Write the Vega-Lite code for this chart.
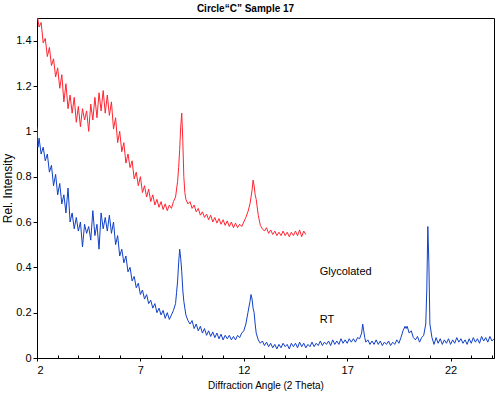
{
"$schema": "https://vega.github.io/schema/vega-lite/v6.json",
"width": 457, "height": 340,
"autosize": {"type": "none"},
"padding": {"left": 37, "top": 18, "right": 6, "bottom": 38},
"background": "white",
"title": {"text": "Circle“C” Sample 17", "font": "Liberation Sans", "fontSize": 10, "fontWeight": "bold", "color": "black", "anchor": "middle", "dx": -20, "offset": 4},
"config": {
  "view": {"stroke": "black", "strokeWidth": 1},
  "axis": {"grid": false, "domainColor": "black", "tickColor": "black", "labelColor": "black", "titleColor": "black", "labelFont": "Liberation Sans", "titleFont": "Liberation Sans", "labelFontSize": 11, "titleFontSize": 10, "titleFontWeight": "normal", "tickSize": 4}
},
"resolve": {"axis": {"x": "independent"}},
"datasets": {
"lines": [
{"s":"G","x":2.0,"y":1.52},{"s":"G","x":2.1,"y":1.46},{"s":"G","x":2.2,"y":1.48},{"s":"G","x":2.3,"y":1.39},{"s":"G","x":2.4,"y":1.41},{"s":"G","x":2.5,"y":1.33},{"s":"G","x":2.6,"y":1.37},{"s":"G","x":2.7,"y":1.29},{"s":"G","x":2.8,"y":1.32},{"s":"G","x":2.9,"y":1.24},
{"s":"G","x":3.0,"y":1.28},{"s":"G","x":3.1,"y":1.19},{"s":"G","x":3.2,"y":1.25},{"s":"G","x":3.3,"y":1.13},{"s":"G","x":3.4,"y":1.21},{"s":"G","x":3.5,"y":1.10},{"s":"G","x":3.6,"y":1.16},{"s":"G","x":3.7,"y":1.08},{"s":"G","x":3.8,"y":1.15},{"s":"G","x":3.9,"y":1.04},
{"s":"G","x":4.0,"y":1.11},{"s":"G","x":4.1,"y":1.02},{"s":"G","x":4.2,"y":1.10},{"s":"G","x":4.3,"y":1.05},{"s":"G","x":4.4,"y":1.09},{"s":"G","x":4.5,"y":1.00},{"s":"G","x":4.6,"y":1.12},{"s":"G","x":4.7,"y":1.05},{"s":"G","x":4.8,"y":1.15},{"s":"G","x":4.9,"y":1.06},
{"s":"G","x":5.0,"y":1.17},{"s":"G","x":5.1,"y":1.09},{"s":"G","x":5.2,"y":1.18},{"s":"G","x":5.3,"y":1.08},{"s":"G","x":5.4,"y":1.16},{"s":"G","x":5.5,"y":1.07},{"s":"G","x":5.6,"y":1.13},{"s":"G","x":5.7,"y":1.01},{"s":"G","x":5.8,"y":1.06},{"s":"G","x":5.9,"y":0.95},
{"s":"G","x":6.0,"y":1.00},{"s":"G","x":6.1,"y":0.91},{"s":"G","x":6.2,"y":0.95},{"s":"G","x":6.3,"y":0.86},{"s":"G","x":6.4,"y":0.90},{"s":"G","x":6.5,"y":0.84},{"s":"G","x":6.6,"y":0.87},{"s":"G","x":6.7,"y":0.79},{"s":"G","x":6.8,"y":0.82},{"s":"G","x":6.9,"y":0.76},
{"s":"G","x":7.0,"y":0.80},{"s":"G","x":7.1,"y":0.73},{"s":"G","x":7.2,"y":0.76},{"s":"G","x":7.3,"y":0.71},{"s":"G","x":7.4,"y":0.745},{"s":"G","x":7.5,"y":0.69},{"s":"G","x":7.6,"y":0.72},{"s":"G","x":7.7,"y":0.675},{"s":"G","x":7.8,"y":0.70},{"s":"G","x":7.9,"y":0.665},
{"s":"G","x":8.0,"y":0.69},{"s":"G","x":8.1,"y":0.655},{"s":"G","x":8.2,"y":0.68},{"s":"G","x":8.3,"y":0.65},{"s":"G","x":8.4,"y":0.675},{"s":"G","x":8.5,"y":0.66},{"s":"G","x":8.6,"y":0.69},{"s":"G","x":8.7,"y":0.71},{"s":"G","x":8.8,"y":0.78},{"s":"G","x":8.85,"y":0.84},
{"s":"G","x":8.9,"y":0.92},{"s":"G","x":8.95,"y":1.02},{"s":"G","x":9.0,"y":1.08},{"s":"G","x":9.05,"y":0.96},{"s":"G","x":9.1,"y":0.80},{"s":"G","x":9.15,"y":0.73},{"s":"G","x":9.2,"y":0.70},{"s":"G","x":9.3,"y":0.68},{"s":"G","x":9.4,"y":0.69},{"s":"G","x":9.5,"y":0.66},
{"s":"G","x":9.6,"y":0.675},{"s":"G","x":9.7,"y":0.645},{"s":"G","x":9.8,"y":0.66},{"s":"G","x":9.9,"y":0.63},{"s":"G","x":10.0,"y":0.645},{"s":"G","x":10.1,"y":0.62},{"s":"G","x":10.2,"y":0.635},{"s":"G","x":10.3,"y":0.61},{"s":"G","x":10.4,"y":0.63},{"s":"G","x":10.5,"y":0.60},
{"s":"G","x":10.6,"y":0.62},{"s":"G","x":10.7,"y":0.595},{"s":"G","x":10.8,"y":0.615},{"s":"G","x":10.9,"y":0.59},{"s":"G","x":11.0,"y":0.61},{"s":"G","x":11.1,"y":0.585},{"s":"G","x":11.2,"y":0.605},{"s":"G","x":11.3,"y":0.58},{"s":"G","x":11.4,"y":0.60},{"s":"G","x":11.5,"y":0.575},
{"s":"G","x":11.6,"y":0.595},{"s":"G","x":11.7,"y":0.575},{"s":"G","x":11.8,"y":0.59},{"s":"G","x":11.9,"y":0.58},{"s":"G","x":12.0,"y":0.60},{"s":"G","x":12.1,"y":0.62},{"s":"G","x":12.2,"y":0.645},{"s":"G","x":12.3,"y":0.68},{"s":"G","x":12.4,"y":0.74},{"s":"G","x":12.45,"y":0.785},
{"s":"G","x":12.5,"y":0.76},{"s":"G","x":12.55,"y":0.72},{"s":"G","x":12.6,"y":0.70},{"s":"G","x":12.7,"y":0.63},{"s":"G","x":12.8,"y":0.585},{"s":"G","x":12.9,"y":0.57},{"s":"G","x":13.0,"y":0.56},{"s":"G","x":13.1,"y":0.575},{"s":"G","x":13.2,"y":0.55},{"s":"G","x":13.3,"y":0.565},
{"s":"G","x":13.4,"y":0.545},{"s":"G","x":13.5,"y":0.56},{"s":"G","x":13.6,"y":0.54},{"s":"G","x":13.7,"y":0.555},{"s":"G","x":13.8,"y":0.54},{"s":"G","x":13.9,"y":0.56},{"s":"G","x":14.0,"y":0.54},{"s":"G","x":14.1,"y":0.555},{"s":"G","x":14.2,"y":0.535},{"s":"G","x":14.3,"y":0.555},
{"s":"G","x":14.4,"y":0.54},{"s":"G","x":14.5,"y":0.56},{"s":"G","x":14.6,"y":0.54},{"s":"G","x":14.7,"y":0.565},{"s":"G","x":14.8,"y":0.535},{"s":"G","x":14.9,"y":0.56},{"s":"G","x":15.0,"y":0.545},
{"s":"R","x":2.0,"y":1.02},{"s":"R","x":2.05,"y":0.93},{"s":"R","x":2.1,"y":0.97},{"s":"R","x":2.2,"y":0.90},{"s":"R","x":2.3,"y":0.93},{"s":"R","x":2.4,"y":0.87},{"s":"R","x":2.5,"y":0.90},{"s":"R","x":2.6,"y":0.82},{"s":"R","x":2.7,"y":0.85},{"s":"R","x":2.8,"y":0.76},
{"s":"R","x":2.9,"y":0.81},{"s":"R","x":3.0,"y":0.72},{"s":"R","x":3.1,"y":0.77},{"s":"R","x":3.2,"y":0.68},{"s":"R","x":3.3,"y":0.72},{"s":"R","x":3.4,"y":0.64},{"s":"R","x":3.5,"y":0.75},{"s":"R","x":3.6,"y":0.60},{"s":"R","x":3.7,"y":0.64},{"s":"R","x":3.8,"y":0.57},
{"s":"R","x":3.9,"y":0.62},{"s":"R","x":4.0,"y":0.56},{"s":"R","x":4.1,"y":0.60},{"s":"R","x":4.2,"y":0.49},{"s":"R","x":4.3,"y":0.59},{"s":"R","x":4.4,"y":0.55},{"s":"R","x":4.5,"y":0.58},{"s":"R","x":4.6,"y":0.52},{"s":"R","x":4.7,"y":0.65},{"s":"R","x":4.8,"y":0.54},
{"s":"R","x":4.9,"y":0.59},{"s":"R","x":5.0,"y":0.48},{"s":"R","x":5.1,"y":0.64},{"s":"R","x":5.2,"y":0.57},{"s":"R","x":5.3,"y":0.62},{"s":"R","x":5.4,"y":0.56},{"s":"R","x":5.5,"y":0.63},{"s":"R","x":5.6,"y":0.55},{"s":"R","x":5.7,"y":0.60},{"s":"R","x":5.8,"y":0.50},
{"s":"R","x":5.9,"y":0.54},{"s":"R","x":6.0,"y":0.45},{"s":"R","x":6.1,"y":0.48},{"s":"R","x":6.2,"y":0.42},{"s":"R","x":6.3,"y":0.45},{"s":"R","x":6.4,"y":0.38},{"s":"R","x":6.5,"y":0.40},{"s":"R","x":6.6,"y":0.34},{"s":"R","x":6.7,"y":0.36},{"s":"R","x":6.8,"y":0.31},
{"s":"R","x":6.9,"y":0.33},{"s":"R","x":7.0,"y":0.28},{"s":"R","x":7.1,"y":0.30},{"s":"R","x":7.2,"y":0.26},{"s":"R","x":7.3,"y":0.28},{"s":"R","x":7.4,"y":0.24},{"s":"R","x":7.5,"y":0.255},{"s":"R","x":7.6,"y":0.22},{"s":"R","x":7.7,"y":0.24},{"s":"R","x":7.8,"y":0.20},
{"s":"R","x":7.9,"y":0.22},{"s":"R","x":8.0,"y":0.19},{"s":"R","x":8.1,"y":0.21},{"s":"R","x":8.2,"y":0.175},{"s":"R","x":8.3,"y":0.20},{"s":"R","x":8.4,"y":0.17},{"s":"R","x":8.5,"y":0.19},{"s":"R","x":8.6,"y":0.21},{"s":"R","x":8.7,"y":0.24},{"s":"R","x":8.75,"y":0.29},
{"s":"R","x":8.8,"y":0.34},{"s":"R","x":8.85,"y":0.42},{"s":"R","x":8.9,"y":0.48},{"s":"R","x":8.95,"y":0.44},{"s":"R","x":9.0,"y":0.38},{"s":"R","x":9.05,"y":0.30},{"s":"R","x":9.1,"y":0.25},{"s":"R","x":9.2,"y":0.19},{"s":"R","x":9.3,"y":0.165},{"s":"R","x":9.4,"y":0.15},
{"s":"R","x":9.5,"y":0.165},{"s":"R","x":9.6,"y":0.13},{"s":"R","x":9.7,"y":0.15},{"s":"R","x":9.8,"y":0.12},{"s":"R","x":9.9,"y":0.14},{"s":"R","x":10.0,"y":0.11},{"s":"R","x":10.1,"y":0.13},{"s":"R","x":10.2,"y":0.10},{"s":"R","x":10.3,"y":0.12},{"s":"R","x":10.4,"y":0.095},
{"s":"R","x":10.5,"y":0.115},{"s":"R","x":10.6,"y":0.09},{"s":"R","x":10.7,"y":0.11},{"s":"R","x":10.8,"y":0.085},{"s":"R","x":10.9,"y":0.105},{"s":"R","x":11.0,"y":0.08},{"s":"R","x":11.1,"y":0.10},{"s":"R","x":11.2,"y":0.085},{"s":"R","x":11.3,"y":0.10},{"s":"R","x":11.4,"y":0.08},
{"s":"R","x":11.5,"y":0.095},{"s":"R","x":11.6,"y":0.08},{"s":"R","x":11.7,"y":0.10},{"s":"R","x":11.8,"y":0.09},{"s":"R","x":11.9,"y":0.11},{"s":"R","x":12.0,"y":0.12},{"s":"R","x":12.1,"y":0.15},{"s":"R","x":12.2,"y":0.20},{"s":"R","x":12.3,"y":0.25},{"s":"R","x":12.35,"y":0.28},
{"s":"R","x":12.4,"y":0.26},{"s":"R","x":12.45,"y":0.22},{"s":"R","x":12.5,"y":0.20},{"s":"R","x":12.55,"y":0.15},{"s":"R","x":12.6,"y":0.11},{"s":"R","x":12.7,"y":0.08},{"s":"R","x":12.8,"y":0.065},{"s":"R","x":12.9,"y":0.075},{"s":"R","x":13.0,"y":0.055},{"s":"R","x":13.1,"y":0.07},
{"s":"R","x":13.2,"y":0.05},{"s":"R","x":13.3,"y":0.065},{"s":"R","x":13.4,"y":0.045},{"s":"R","x":13.5,"y":0.06},{"s":"R","x":13.6,"y":0.04},{"s":"R","x":13.7,"y":0.06},{"s":"R","x":13.8,"y":0.045},{"s":"R","x":13.9,"y":0.065},{"s":"R","x":14.0,"y":0.05},{"s":"R","x":14.1,"y":0.06},
{"s":"R","x":14.2,"y":0.04},{"s":"R","x":14.3,"y":0.065},{"s":"R","x":14.4,"y":0.05},{"s":"R","x":14.5,"y":0.065},{"s":"R","x":14.6,"y":0.045},{"s":"R","x":14.7,"y":0.07},{"s":"R","x":14.8,"y":0.05},{"s":"R","x":14.9,"y":0.065},{"s":"R","x":15.0,"y":0.045},{"s":"R","x":15.1,"y":0.06},
{"s":"R","x":15.2,"y":0.05},{"s":"R","x":15.3,"y":0.07},{"s":"R","x":15.4,"y":0.05},{"s":"R","x":15.5,"y":0.065},{"s":"R","x":15.6,"y":0.055},{"s":"R","x":15.7,"y":0.075},{"s":"R","x":15.8,"y":0.055},{"s":"R","x":15.9,"y":0.07},{"s":"R","x":16.0,"y":0.06},{"s":"R","x":16.1,"y":0.075},
{"s":"R","x":16.2,"y":0.055},{"s":"R","x":16.3,"y":0.08},{"s":"R","x":16.4,"y":0.06},{"s":"R","x":16.5,"y":0.075},{"s":"R","x":16.6,"y":0.06},{"s":"R","x":16.7,"y":0.085},{"s":"R","x":16.8,"y":0.065},{"s":"R","x":16.9,"y":0.08},{"s":"R","x":17.0,"y":0.065},{"s":"R","x":17.1,"y":0.085},
{"s":"R","x":17.2,"y":0.07},{"s":"R","x":17.3,"y":0.085},{"s":"R","x":17.4,"y":0.07},{"s":"R","x":17.5,"y":0.09},{"s":"R","x":17.6,"y":0.085},{"s":"R","x":17.7,"y":0.11},{"s":"R","x":17.75,"y":0.15},{"s":"R","x":17.8,"y":0.12},{"s":"R","x":17.85,"y":0.09},{"s":"R","x":17.9,"y":0.07},
{"s":"R","x":18.0,"y":0.08},{"s":"R","x":18.1,"y":0.06},{"s":"R","x":18.2,"y":0.075},{"s":"R","x":18.3,"y":0.06},{"s":"R","x":18.4,"y":0.08},{"s":"R","x":18.5,"y":0.06},{"s":"R","x":18.6,"y":0.075},{"s":"R","x":18.7,"y":0.055},{"s":"R","x":18.8,"y":0.07},{"s":"R","x":18.9,"y":0.06},
{"s":"R","x":19.0,"y":0.075},{"s":"R","x":19.1,"y":0.055},{"s":"R","x":19.2,"y":0.07},{"s":"R","x":19.3,"y":0.06},{"s":"R","x":19.4,"y":0.08},{"s":"R","x":19.5,"y":0.065},{"s":"R","x":19.6,"y":0.09},{"s":"R","x":19.7,"y":0.12},{"s":"R","x":19.8,"y":0.14},{"s":"R","x":19.85,"y":0.13},
{"s":"R","x":19.9,"y":0.14},{"s":"R","x":20.0,"y":0.11},{"s":"R","x":20.1,"y":0.12},{"s":"R","x":20.2,"y":0.09},{"s":"R","x":20.3,"y":0.08},{"s":"R","x":20.4,"y":0.095},{"s":"R","x":20.5,"y":0.07},{"s":"R","x":20.6,"y":0.09},{"s":"R","x":20.7,"y":0.10},{"s":"R","x":20.8,"y":0.15},
{"s":"R","x":20.85,"y":0.30},{"s":"R","x":20.9,"y":0.58},{"s":"R","x":20.95,"y":0.42},{"s":"R","x":21.0,"y":0.15},{"s":"R","x":21.1,"y":0.09},{"s":"R","x":21.2,"y":0.06},{"s":"R","x":21.3,"y":0.09},{"s":"R","x":21.4,"y":0.065},{"s":"R","x":21.5,"y":0.085},{"s":"R","x":21.6,"y":0.06},
{"s":"R","x":21.7,"y":0.08},{"s":"R","x":21.8,"y":0.065},{"s":"R","x":21.9,"y":0.085},{"s":"R","x":22.0,"y":0.06},{"s":"R","x":22.1,"y":0.08},{"s":"R","x":22.2,"y":0.065},{"s":"R","x":22.3,"y":0.09},{"s":"R","x":22.4,"y":0.07},{"s":"R","x":22.5,"y":0.085},{"s":"R","x":22.6,"y":0.065},
{"s":"R","x":22.7,"y":0.08},{"s":"R","x":22.8,"y":0.06},{"s":"R","x":22.9,"y":0.085},{"s":"R","x":23.0,"y":0.065},{"s":"R","x":23.1,"y":0.09},{"s":"R","x":23.2,"y":0.07},{"s":"R","x":23.3,"y":0.085},{"s":"R","x":23.4,"y":0.065},{"s":"R","x":23.5,"y":0.095},{"s":"R","x":23.6,"y":0.075},
{"s":"R","x":23.7,"y":0.09},{"s":"R","x":23.8,"y":0.07},{"s":"R","x":23.9,"y":0.095},{"s":"R","x":24.0,"y":0.075},{"s":"R","x":24.1,"y":0.085}
],
"labels": [
{"label":"Glycolated","x":15.67,"y":0.38},
{"label":"RT","x":15.67,"y":0.168}
]
},
"layer": [
{
  "data": {"name": "lines"},
  "mark": {"type": "line", "strokeWidth": 1, "clip": true},
  "encoding": {
    "x": {"field": "x", "type": "quantitative", "scale": {"domain": [2, 24.1], "nice": false, "zero": false}, "axis": {"orient": "bottom", "values": [2, 7, 12, 17, 22], "labelOverlap": false, "tickSize": 3, "labelPadding": 3, "labelFontSize": 11, "title": "Diffraction Angle (2 Theta)", "titleFontSize": 10, "titlePadding": 5}},
    "y": {"field": "y", "type": "quantitative", "scale": {"domain": [0, 1.5], "nice": false}, "axis": {"values": [0, 0.2, 0.4, 0.6, 0.8, 1, 1.2, 1.4], "format": "~g", "title": "Rel. Intensity", "titleFontSize": 12, "labelPadding": 2, "titlePadding": 1}},
    "color": {"field": "s", "type": "nominal", "scale": {"domain": ["G", "R"], "range": ["#ff2430", "#1040c8"]}, "legend": null},
    "detail": {"field": "s"}
  }
},
{
  "data": {"name": "labels"},
  "mark": {"type": "text", "align": "left", "baseline": "middle", "font": "Liberation Sans", "fontSize": 11, "color": "black"},
  "encoding": {
    "x": {"field": "x", "type": "quantitative", "axis": {"orient": "bottom", "values": [3, 4, 5, 6, 8, 9, 10, 11, 13, 14, 15, 16, 18, 19, 20, 21, 23, 24], "labels": false, "domain": false, "title": null, "tickSize": -3}},
    "y": {"field": "y", "type": "quantitative"},
    "text": {"field": "label"}
  }
}
]
}
